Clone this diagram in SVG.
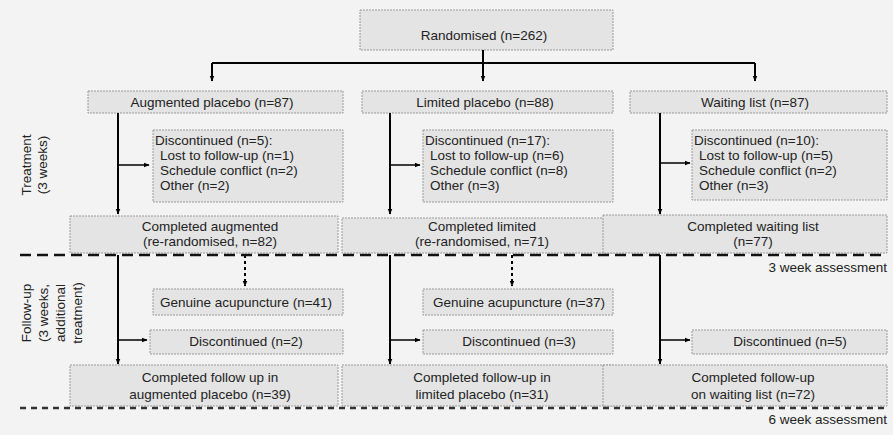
<svg xmlns="http://www.w3.org/2000/svg" width="893" height="435" viewBox="0 0 893 435">
<defs>
<marker id="ah" viewBox="0 0 10 10" refX="9" refY="5" markerWidth="6" markerHeight="6" orient="auto" markerUnits="userSpaceOnUse">
<path d="M0,1 L10,5 L0,9 z" fill="#000"/>
</marker>
<style>
.bx{fill:#e4e4e4;stroke:#9a9a9a;stroke-width:1;stroke-dasharray:2,1}
.t{font-family:"Liberation Sans",Arial,sans-serif;font-size:13.5px;fill:#222}
.c{text-anchor:middle}
.ln{stroke:#000;stroke-width:2;fill:none}
.thin{stroke:#000;stroke-width:1.5;fill:none}
.dot{stroke:#000;stroke-width:2;fill:none;stroke-dasharray:3,3}
.dash{stroke:#111;stroke-width:2.5;fill:none;stroke-dasharray:11,6}
.dash2{stroke:#333;stroke-width:2.5;fill:none;stroke-dasharray:6,5}
</style>
</defs>
<rect width="893" height="435" fill="#f3f3f3"/>

<g id="randomised"><rect class="bx" x="360" y="10" width="253" height="40"/><text class="t c" x="484" y="40">Randomised (n=262)</text></g>

<g id="aug"><rect class="bx" x="88" y="91" width="255" height="22"/><text class="t c" x="212" y="107">Augmented placebo (n=87)</text></g>
<g id="lim"><rect class="bx" x="362" y="91" width="251" height="22"/><text class="t c" x="485" y="107">Limited placebo (n=88)</text></g>
<g id="wait"><rect class="bx" x="630" y="91" width="257" height="22"/><text class="t c" x="755" y="107">Waiting list (n=87)</text></g>

<g id="disc1"><rect class="bx" x="153" y="130" width="190" height="72"/>
<text class="t" x="155" y="145">Discontinued (n=5):</text>
<text class="t" x="160" y="160">Lost to follow-up (n=1)</text>
<text class="t" x="160" y="175">Schedule conflict (n=2)</text>
<text class="t" x="160" y="190">Other (n=2)</text></g>
<g id="disc2"><rect class="bx" x="423" y="130" width="190" height="72"/>
<text class="t" x="425" y="145">Discontinued (n=17):</text>
<text class="t" x="430" y="160">Lost to follow-up (n=6)</text>
<text class="t" x="430" y="175">Schedule conflict (n=8)</text>
<text class="t" x="430" y="190">Other (n=3)</text></g>
<g id="disc3"><rect class="bx" x="692" y="130" width="195" height="70"/>
<text class="t" x="694" y="145">Discontinued (n=10):</text>
<text class="t" x="699" y="160">Lost to follow-up (n=5)</text>
<text class="t" x="699" y="175">Schedule conflict (n=2)</text>
<text class="t" x="699" y="190">Other (n=3)</text></g>

<g id="comp1"><rect class="bx" x="70" y="216" width="268" height="37"/>
<text class="t c" x="210" y="231">Completed augmented</text>
<text class="t c" x="210" y="246">(re-randomised, n=82)</text></g>
<g id="comp2"><rect class="bx" x="342" y="218" width="271" height="35"/>
<text class="t c" x="482" y="231">Completed limited</text>
<text class="t c" x="482" y="246">(re-randomised, n=71)</text></g>
<g id="comp3"><rect class="bx" x="603" y="215" width="284" height="38"/>
<text class="t c" x="753" y="231">Completed waiting list</text>
<text class="t c" x="753" y="246">(n=77)</text></g>

<g id="gen1"><rect class="bx" x="153" y="289" width="190" height="26"/><text class="t c" x="246" y="307">Genuine acupuncture (n=41)</text></g>
<g id="gen2"><rect class="bx" x="423" y="289" width="190" height="26"/><text class="t c" x="519" y="307">Genuine acupuncture (n=37)</text></g>

<g id="fd1"><rect class="bx" x="150" y="330" width="193" height="24"/><text class="t c" x="246" y="346">Discontinued (n=2)</text></g>
<g id="fd2"><rect class="bx" x="423" y="330" width="190" height="24"/><text class="t c" x="519" y="346">Discontinued (n=3)</text></g>
<g id="fd3"><rect class="bx" x="692" y="330" width="195" height="24"/><text class="t c" x="790" y="346">Discontinued (n=5)</text></g>

<g id="fc1"><rect class="bx" x="70" y="365" width="268" height="41"/>
<text class="t c" x="210" y="382">Completed follow up in</text>
<text class="t c" x="210" y="399">augmented placebo (n=39)</text></g>
<g id="fc2"><rect class="bx" x="342" y="365" width="271" height="41"/>
<text class="t c" x="482" y="382">Completed follow-up in</text>
<text class="t c" x="482" y="399">limited placebo (n=31)</text></g>
<g id="fc3"><rect class="bx" x="603" y="365" width="284" height="41"/>
<text class="t c" x="753" y="382">Completed follow-up</text>
<text class="t c" x="753" y="399">on waiting list (n=72)</text></g>

<g id="labels">
<text class="t c" transform="translate(31,165) rotate(-90)">Treatment</text>
<text class="t c" transform="translate(47,165) rotate(-90)">(3 weeks)</text>
<text class="t c" transform="translate(31,313) rotate(-90)">Follow-up</text>
<text class="t c" transform="translate(48,313) rotate(-90)">(3 weeks,</text>
<text class="t c" transform="translate(65,313) rotate(-90)">additional</text>
<text class="t c" transform="translate(82,313) rotate(-90)">treatment)</text>
<text class="t" x="887" y="272" text-anchor="end">3 week assessment</text>
<text class="t" x="887" y="424" text-anchor="end">6 week assessment</text>
</g>

<g id="connectors">
<path class="ln" d="M212,63 H755"/>
<path class="ln" d="M483,50 V81" marker-end="url(#ah)"/>
<path class="ln" d="M212,63 V81" marker-end="url(#ah)"/>
<path class="ln" d="M755,63 V81" marker-end="url(#ah)"/>
<path class="ln" d="M118,113 V214" marker-end="url(#ah)"/>
<path class="ln" d="M390,113 V214" marker-end="url(#ah)"/>
<path class="ln" d="M660,113 V214" marker-end="url(#ah)"/>
<path class="thin" d="M118,165 H149" marker-end="url(#ah)"/>
<path class="thin" d="M390,165 H420" marker-end="url(#ah)"/>
<path class="thin" d="M660,163 H690" marker-end="url(#ah)"/>
<path class="ln" d="M118,255 V364" marker-end="url(#ah)"/>
<path class="ln" d="M390,255 V364" marker-end="url(#ah)"/>
<path class="ln" d="M660,255 V364" marker-end="url(#ah)"/>
<path class="dot" d="M245,255 V286" marker-end="url(#ah)"/>
<path class="dot" d="M512,255 V286" marker-end="url(#ah)"/>
<path class="thin" d="M118,340 H147" marker-end="url(#ah)"/>
<path class="thin" d="M390,340 H420" marker-end="url(#ah)"/>
<path class="thin" d="M660,340 H690" marker-end="url(#ah)"/>
<path class="dash" d="M20,255 H887"/>
<path class="dash2" d="M20,408 H887"/>
</g>
</svg>
